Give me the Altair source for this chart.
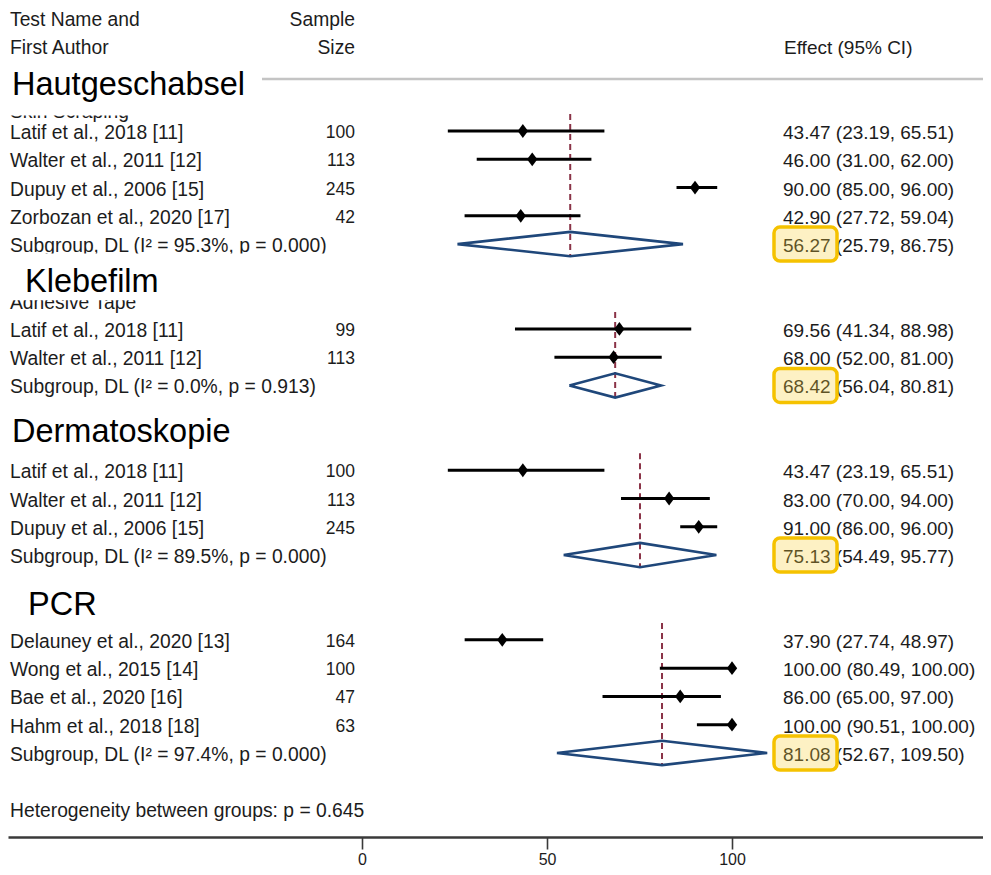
import altair as alt
import pandas as pd

# ---------------- data ----------------
group_labels = ["Hautgeschabsel", "Klebefilm", "Dermatoskopie", "PCR"]
original_labels = ["Skin Scraping", "Adhesive Tape", "", ""]

study_names = [
    ["Latif et al., 2018 [11]", "Walter et al., 2011 [12]", "Dupuy et al., 2006 [15]", "Zorbozan et al., 2020 [17]"],
    ["Latif et al., 2018 [11]", "Walter et al., 2011 [12]"],
    ["Latif et al., 2018 [11]", "Walter et al., 2011 [12]", "Dupuy et al., 2006 [15]"],
    ["Delauney et al., 2020 [13]", "Wong et al., 2015 [14]", "Bae et al., 2020 [16]", "Hahm et al., 2018 [18]"],
]
sample_sizes = [[100, 113, 245, 42], [99, 113], [100, 113, 245], [164, 100, 47, 63]]
effects = [[43.47, 46.00, 90.00, 42.90], [69.56, 68.00], [43.47, 83.00, 91.00], [37.90, 100.00, 86.00, 100.00]]
ci_low = [[23.19, 31.00, 85.00, 27.72], [41.34, 52.00], [23.19, 70.00, 86.00], [27.74, 80.49, 65.00, 90.51]]
ci_high = [[65.51, 62.00, 96.00, 59.04], [88.98, 81.00], [65.51, 94.00, 96.00], [48.97, 100.00, 97.00, 100.00]]

sub_effect = [56.27, 68.42, 75.13, 81.08]
sub_low = [25.79, 56.04, 54.49, 52.67]
sub_high = [86.75, 80.81, 95.77, 109.50]
sub_i2 = [95.3, 0.0, 89.5, 97.4]
sub_p = ["0.000", "0.913", "0.000", "0.000"]
het_p = "0.645"

x_ticks = [0, 50, 100]

# ---------------- layout (styling only) ----------------
FONT = "Liberation Sans"
TXT = "#1c1c1c"
FS_L = 19.3
W, H, PB = 975, 829, 30
label_offsets = [-1.70, -1.73, -1.42, -1.30]   # big group label row offset vs first study
label_x = [4, 17, 4, 20]
x_scale = alt.Scale(domain=[-95.68, -95.68 + W / 3.7], nice=False, zero=False)
y_scale = alt.Scale(domain=[-4.351, -4.351 + H / 28.27], reverse=True, nice=False, zero=False)
x_axis = alt.Axis(values=x_ticks, title=None, grid=False, domainColor="#3a3a3a", domainWidth=2.5,
                  tickColor="#3a3a3a", tickWidth=1.6, tickSize=12, labelFontSize=16, labelFont=FONT,
                  labelColor=TXT, labelPadding=2)

# ---------------- build tables ----------------
studies, subs, diamonds, groups, remnants = [], [], [], [], []
row = 0
for g in range(len(group_labels)):
    start = row
    groups.append({"row": start + label_offsets[g], "text": group_labels[g], "gx": label_x[g]})
    if original_labels[g]:
        remnants.append({"row": start - 1 + (0.26 if g == 0 else 0.0), "text": original_labels[g]})
    for i, name in enumerate(study_names[g]):
        studies.append({"row": row, "name": name, "n": str(sample_sizes[g][i]),
                        "est": effects[g][i], "lo": ci_low[g][i], "hi": ci_high[g][i],
                        "eff": f"{effects[g][i]:.2f} ({ci_low[g][i]:.2f}, {ci_high[g][i]:.2f})"})
        row += 1
    subs.append({"row": row, "name": f"Subgroup, DL (I\u00b2 = {sub_i2[g]:.1f}%, p = {sub_p[g]})",
                 "est": sub_effect[g], "lo": sub_low[g], "hi": sub_high[g],
                 "eff": f"{sub_effect[g]:.2f} ({sub_low[g]:.2f}, {sub_high[g]:.2f})",
                 "top": start - 0.6, "bot": row + 0.43,
                 "b1": row - 0.6, "b2": row + 0.6})
    for k, (xv, dy) in enumerate([(sub_low[g], 0), (sub_effect[g], -0.43), (sub_high[g], 0),
                                  (sub_effect[g], 0.43), (sub_low[g], 0)]):
        diamonds.append({"g": g, "o": k, "x": xv, "row": row + dy})
    row += 3
het_row = row - 1

df_st = pd.DataFrame(studies)
df_sub = pd.DataFrame(subs)
df_dia = pd.DataFrame(diamonds)
df_grp = pd.DataFrame(groups)
df_rem = pd.DataFrame(remnants)
df_left = pd.concat([df_st[["row", "name"]], df_sub[["row", "name"]]])
df_eff = pd.concat([df_st[["row", "eff"]], df_sub[["row", "eff"]]])
df_head_l = pd.DataFrame({"row": [-4, -3], "text": ["Test Name and", "First Author"]})
df_het = pd.DataFrame({"row": [het_row], "text": [f"Heterogeneity between groups: p = {het_p}"]})
df_head_n = pd.DataFrame({"row": [-4, -3], "text": ["Sample", "Size"]})
df_head_e = pd.DataFrame({"row": [-3], "text": ["Effect (95% CI)"]})
df_white = pd.DataFrame({"y1": [-2.5, 4.33], "y2": [-0.55, 5.99]})
df_line = pd.DataFrame({"row": [-1.84]})

Y = lambda f: alt.Y(f, scale=y_scale, axis=None)
X = lambda f: alt.X(f, scale=x_scale, axis=x_axis)

base_axis = alt.Chart(pd.DataFrame({"v": x_ticks})).mark_point(opacity=0).encode(
    x=X("v:Q"), y=alt.value(0))

gray_line = alt.Chart(df_line).mark_rule(color="#c4c4c4", strokeWidth=2.5).encode(
    x=alt.value(0), x2=alt.value(W), y=Y("row:Q"))

def txt(df, field, x, align="left", size=FS_L, color=TXT):
    return alt.Chart(df).mark_text(align=align, baseline="middle", font=FONT, fontSize=size,
                                   color=color, dy=2).encode(x=alt.value(x), y=Y("row:Q"), text=f"{field}:N")

left_txt = txt(df_left, "name", 2)
rem_txt = txt(df_rem, "text", 2)
white_a = alt.Chart(df_white.iloc[[0]]).mark_rect(color="white").encode(
    x=alt.value(0), x2=alt.value(254), y=Y("y1:Q"), y2="y2:Q")
white_b = alt.Chart(df_white.iloc[[1]]).mark_rect(color="white").encode(
    x=alt.value(0), x2=alt.value(392), y=Y("y1:Q"), y2="y2:Q")

grp_layers = [txt(df_grp.iloc[[gi]], "text", label_x[gi], size=32.5, color="#000000")
              for gi in range(len(groups))]

dash = alt.Chart(df_sub).mark_rule(color="#8a3347", strokeWidth=2, strokeDash=[6, 4]).encode(
    x=X("est:Q"), y=Y("top:Q"), y2="bot:Q")
ci = alt.Chart(df_st).mark_rule(color="#000000", strokeWidth=3).encode(
    x=X("lo:Q"), x2="hi:Q", y=Y("row:Q"))
pts = alt.Chart(df_st).mark_point(shape="M0,-1L0.75,0L0,1L-0.75,0Z", filled=True, opacity=1,
                                  color="#000000", size=190).encode(x=X("est:Q"), y=Y("row:Q"))
dia = alt.Chart(df_dia).mark_line(color="#1f477a", strokeWidth=2.6, strokeJoin="miter").encode(
    x=X("x:Q"), y=Y("row:Q"), detail="g:N", order="o:Q")

n_txt = txt(df_st, "n", 347, align="right", size=17.5)
eff_txt = txt(df_eff, "eff", 775, size=19)
hl = alt.Chart(df_sub).mark_rect(fill="#f7d23c", fillOpacity=0.3, stroke="#f5c200", strokeWidth=3.5,
                                 cornerRadius=6).encode(
    x=alt.value(766), x2=alt.value(829), y=Y("b1:Q"), y2="b2:Q")

head_l = txt(df_head_l, "text", 2)
het_txt = txt(df_het, "text", 2)
head_n = txt(df_head_n, "text", 347, align="right")
head_e = txt(df_head_e, "text", 776, size=19)

chart = alt.layer(
    base_axis, gray_line, left_txt, rem_txt, white_a, white_b, *grp_layers, dash, ci, pts, dia,
    n_txt, eff_txt, hl, head_l, het_txt, head_n, head_e
).properties(
    width=W, height=H, background="white",
    autosize=alt.AutoSizeParams(type="none"),
    padding={"left": 0, "top": 0, "right": 0, "bottom": PB},
).configure_view(stroke=None)

chart.save("out.html", embed_options={"renderer": "svg", "actions": False})
